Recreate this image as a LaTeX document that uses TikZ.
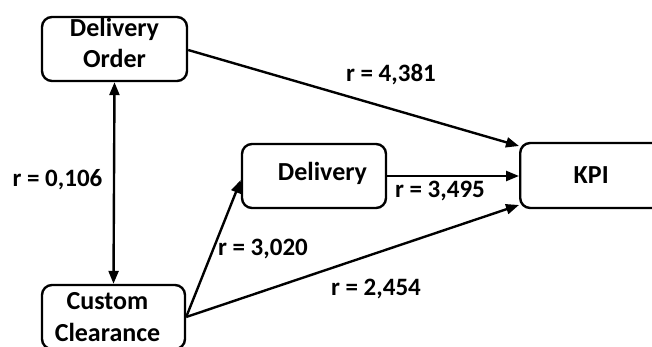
\documentclass[tikz,border=0pt]{standalone}
\usepackage{fontspec}
\setmainfont{Carlito}
\usetikzlibrary{arrows.meta}
\begin{document}
\begin{tikzpicture}[x=1pt,y=-1pt,
  box/.style={draw, line width=2.4pt, rounded corners=10pt, align=center, inner sep=0pt,
    font=\fontsize{26}{31.5}\selectfont\bfseries},
  lab/.style={font=\fontsize{25}{30}\selectfont\bfseries, inner sep=0pt, anchor=base},
  con/.style={line width=2.4pt, -{Triangle[length=13pt,width=10pt]}}]
\useasboundingbox (0,0) rectangle (652,347);
\clip (0,0) rectangle (652,347);
\node[box, minimum width=145pt, minimum height=64pt, text depth=12pt] (DO) at (114.5,49) {Delivery\\Order};
\node[box, minimum width=143pt, minimum height=64pt] (CC) at (113.5,317) {Custom\hspace*{12pt}\\Clearance\hspace*{12pt}};
\node[box, minimum width=144pt, minimum height=64pt, text depth=10pt] (D) at (314,176) {\hspace*{17pt}Delivery};
\node[box, minimum width=142pt, minimum height=65pt, anchor=west] (K) at (519,175.5) {KPI};
\draw[line width=2.4pt, {Triangle[length=13pt,width=10pt]}-{Triangle[length=13pt,width=10pt]}] (DO.south) -- (CC.north);
\draw[con] (DO.east |- 0,50) -- (K.west |- 0,146);
\draw[con] (D.east) -- (K.west |- D.east);
\draw[con] (CC.east |- 0,317) -- (K.west |- 0,205);
\draw[con] (CC.east |- 0,317) -- (D.west |- 0,180);
\node[lab] (l1) at (391,82) {r = 4,381};
\node[lab] (l2) at (57.5,186) {r = 0,106};
\node[lab] (l3) at (440,198) {r = 3,495};
\node[lab] (l4) at (263,255) {r = 3,020};
\node[lab] (l5) at (376,295) {r = 2,454};
\end{tikzpicture}
\end{document}
